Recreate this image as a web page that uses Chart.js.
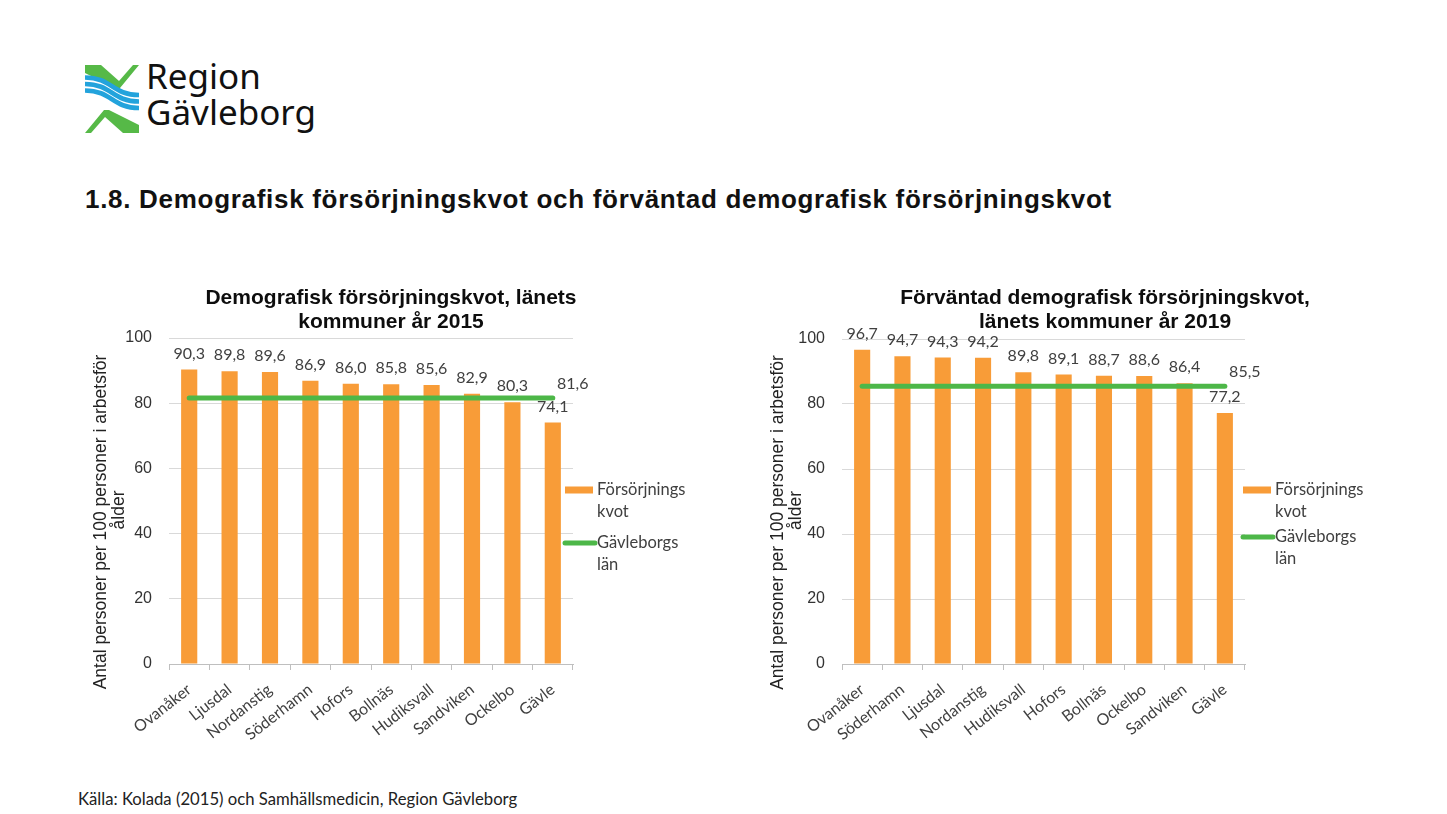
<!DOCTYPE html>
<html><head><meta charset="utf-8">
<script src="https://cdn.jsdelivr.net/npm/chart.js@4.4.1/dist/chart.umd.min.js"></script>
<style>
html,body{margin:0;padding:0;background:#fff;overflow:hidden;width:1447px;height:814px;}
.abs{position:absolute;}
#logoSvg{left:84px;top:64px;}
#logoText{left:146px;top:58px;font-family:'Noto Sans';font-size:35px;line-height:36px;color:#111;}
#mainTitle{left:85px;top:184px;font-family:'Liberation Sans';font-weight:bold;font-size:26px;letter-spacing:0.7px;color:#111;white-space:nowrap}
#source{left:78px;top:789px;font-family:Lato;font-size:16.7px;color:#222;white-space:nowrap}
#c1{left:80px;top:280px;width:640px;height:480px}
#c2{left:753px;top:280px;width:687px;height:480px}
</style></head>
<body>
<svg id="logoSvg" class="abs" width="56" height="70" viewBox="0 0 56 70">
  <polygon points="1,1 17,1 35,17 49,1 55,1 36,24 31,24 1,9" fill="#56b947"/>
  <polygon points="1,1 17,1 35,17 49,1 55,1 36,24 31,24 1,9" fill="#56b947" transform="rotate(180 28 35)"/>
  <path d="M1,13.5 C28,13.5 28,31 55,31" stroke="#23a3dc" stroke-width="4.6" fill="none"/>
  <path d="M1,20 C28,20 28,37.5 55,37.5" stroke="#23a3dc" stroke-width="4.6" fill="none"/>
  <path d="M1,26.5 C28,26.5 28,44 55,44" stroke="#23a3dc" stroke-width="4.6" fill="none"/>
</svg>
<div id="logoText" class="abs">Region<br>Gävleborg</div>
<div id="mainTitle" class="abs">1.8. Demografisk försörjningskvot och förväntad demografisk försörjningskvot</div>
<div id="c1" class="abs"><canvas id="chart1"></canvas></div>
<div id="c2" class="abs"><canvas id="chart2"></canvas></div>
<div id="source" class="abs">Källa: Kolada (2015) och Samhällsmedicin, Region Gävleborg</div>
<script>
// ---- Data ----
const categories2015 = ['Ovanåker','Ljusdal','Nordanstig','Söderhamn','Hofors','Bollnäs','Hudiksvall','Sandviken','Ockelbo','Gävle'];
const kvot2015 = [90.3, 89.8, 89.6, 86.9, 86.0, 85.8, 85.6, 82.9, 80.3, 74.1];
const lan2015 = 81.6;

const categories2019 = ['Ovanåker','Söderhamn','Ljusdal','Nordanstig','Hudiksvall','Hofors','Bollnäs','Ockelbo','Sandviken','Gävle'];
const kvot2019 = [96.7, 94.7, 94.3, 94.2, 89.8, 89.1, 88.7, 88.6, 86.4, 77.2];
const lan2019 = 85.5;

const title2015 = ['Demografisk försörjningskvot, länets', 'kommuner år 2015'];
const title2019 = ['Förväntad demografisk försörjningskvot,', 'länets kommuner år 2019'];
const yAxisTitle = ['Antal personer per 100 personer i arbetsför', 'ålder'];
const legendBar = ['Försörjnings', 'kvot'];
const legendLine = ['Gävleborgs', 'län'];
const yTicks = [0, 20, 40, 60, 80, 100];

const ORANGE = '#f89c38';
const GREEN = '#4db748';
const TXT = '#404040';
const LABEL_FONT = 'Lato';

const fmt = v => v.toFixed(1).replace('.', ',');

const labelsPlugin = {
  id: 'customLabels',
  afterDatasetsDraw(chart) {
    const ctx = chart.ctx;
    ctx.save();
    ctx.font = '16px ' + LABEL_FONT;
    ctx.fillStyle = TXT;
    ctx.textAlign = 'center';
    ctx.textBaseline = 'middle';
    chart.data.datasets.forEach((ds, i) => {
      const meta = chart.getDatasetMeta(i);
      if (ds.type === 'bar') {
        meta.data.forEach((el, j) => {
          ctx.fillText(fmt(ds.data[j]), el.x, el.y - 16);
        });
      } else {
        const last = meta.data[meta.data.length - 1];
        ctx.fillText(fmt(ds.data[ds.data.length - 1]), last.x + 20, last.y - 14);
      }
    });
    ctx.restore();
  },
  afterDraw(chart, args, opts) {
    const ctx = chart.ctx;
    const ca = chart.chartArea;
    ctx.save();
    // chart title
    ctx.font = 'bold 21px "Liberation Sans"';
    ctx.fillStyle = '#0d0d0d';
    ctx.textAlign = 'center';
    ctx.textBaseline = 'middle';
    opts.title.forEach((t, k) => ctx.fillText(t, opts.titleX, 18 + k * 24));
    // y-axis title (two rotated lines)
    ctx.font = '17.5px "Liberation Sans"';
    ctx.fillStyle = '#222';
    const yMid = (ca.top + ca.bottom) / 2;
    yAxisTitle.forEach((t, k) => {
      ctx.save();
      ctx.translate(opts.yTitleX + k * 18, yMid + (k === 0 ? 21 : 9));
      ctx.rotate(-Math.PI / 2);
      ctx.fillText(t, 0, 0);
      ctx.restore();
    });
    // legend
    const bx = ca.right + opts.legendDX;
    ctx.fillStyle = ORANGE;
    ctx.fillRect(bx, opts.legendY1 - 3.5, 28, 7);
    ctx.strokeStyle = GREEN;
    ctx.lineWidth = 5;
    ctx.lineCap = 'round';
    ctx.beginPath();
    ctx.moveTo(bx, opts.legendY2);
    ctx.lineTo(bx + 30, opts.legendY2);
    ctx.stroke();
    ctx.font = '16.5px ' + LABEL_FONT;
    ctx.fillStyle = TXT;
    ctx.textAlign = 'left';
    legendBar.forEach((t, k) => ctx.fillText(t, bx + 32, opts.legendY1 + k * 22));
    legendLine.forEach((t, k) => ctx.fillText(t, bx + 32, opts.legendY2 + k * 22));
    ctx.restore();
  }
};

function makeChart(id, cats, bars, lanValue, title, cfg) {
  return new Chart(document.getElementById(id), {
    data: {
      labels: cats,
      datasets: [
        { type: 'line', label: legendLine.join(' '), data: cats.map(() => lanValue),
          borderColor: GREEN, borderWidth: 5, pointRadius: 0, borderCapStyle: 'round', order: 0 },
        { type: 'bar', label: legendBar.join(''), data: bars, backgroundColor: ORANGE,
          barPercentage: 0.8, categoryPercentage: 0.5, order: 1 }
      ]
    },
    options: {
      responsive: true, maintainAspectRatio: false, animation: false,
      layout: { padding: { top: cfg.top, right: cfg.right, left: 0, bottom: 0 } },
      plugins: {
        legend: { display: false }, tooltip: { enabled: false }, title: { display: false },
        customLabels: { title: title, titleX: cfg.titleX, yTitleX: cfg.yTitleX, legendDX: cfg.legendDX, legendY1: 210, legendY2: cfg.legendY2 }
      },
      scales: {
        x: {
          offset: true,
          grid: { display: true, drawOnChartArea: false, drawTicks: true, tickLength: 6, color: '#bfbfbf', offset: true },
          border: { display: true, color: '#bfbfbf' },
          ticks: { autoSkip: false, maxRotation: 38, minRotation: 38, color: TXT, font: { family: LABEL_FONT, size: 16 }, padding: 10 },
          afterFit(s) { s.height = 96; }
        },
        y: {
          min: 0, max: 100,
          afterBuildTicks(s) { s.ticks = yTicks.map(v => ({ value: v })); },
          grid: { color: '#d9d9d9', drawTicks: false },
          border: { display: false },
          ticks: { color: '#333', font: { family: 'Liberation Sans', size: 16 }, padding: 17 },
          afterFit(s) { s.width = 89; }
        }
      }
    },
    plugins: [labelsPlugin]
  });
}

makeChart('chart1', categories2015, kvot2015, lan2015, title2015,
  { top: 58, right: 147, titleX: 311, yTitleX: 21, legendDX: -8, legendY2: 263 });
makeChart('chart2', categories2019, kvot2019, lan2019, title2019,
  { top: 59, right: 195, titleX: 352, yTitleX: 25, legendDX: -2, legendY2: 257 });
</script>
</body></html>
